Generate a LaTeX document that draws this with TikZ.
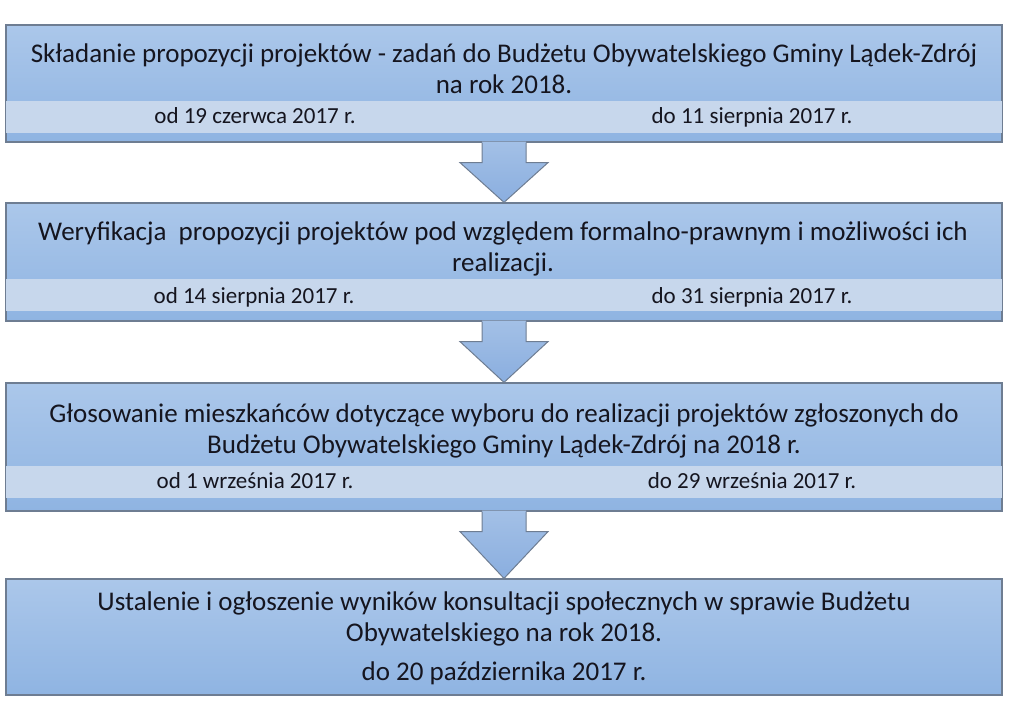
\documentclass[tikz,border=0pt]{standalone}
\usepackage{fontspec}
\setmainfont{Carlito}
\usetikzlibrary{calc}
\definecolor{boxtop}{HTML}{ABC7EA}
\definecolor{boxbot}{HTML}{8FB4E2}
\definecolor{bandfill}{HTML}{C7D7EC}
\definecolor{edgeline}{HTML}{6E7D92}
\definecolor{arrtop}{HTML}{A3C0E6}
\definecolor{arrbot}{HTML}{8AAEDF}
\definecolor{ink}{HTML}{15151F}
\tikzset{
  stepbox/.style={draw=edgeline, line width=1.2pt, top color=boxtop, bottom color=boxbot,
    minimum width=996pt, inner sep=0pt},
  band/.style={fill=bandfill},
  title/.style={font=\fontsize{27}{31}\selectfont, align=center, text=ink},
  period/.style={font=\fontsize{23}{26}\selectfont, text=ink, text height=16pt, text depth=5pt},
  arrowbody/.style={top color=arrtop, bottom color=arrbot},
  arrowedge/.style={draw=edgeline, line width=1pt, line join=miter}
}
\begin{document}
\begin{tikzpicture}[x=1pt,y=-1pt]
  \useasboundingbox (0,0) rectangle (1023,719);

  % boxes
  \node[stepbox, minimum height=117pt] (s1) at (504,83.5) {};
  \node[stepbox, minimum height=118pt] (s2) at (504,262) {};
  \node[stepbox, minimum height=128pt] (s3) at (504,447) {};
  \node[stepbox, minimum height=116pt] (s4) at (504,637) {};

  % date bands
  \foreach \s/\g in {s1/10,s2/11,s3/14}
    \fill[band] ($(\s.south west)+(0.6,-\g)$) rectangle ($(\s.south east)+(-0.6,-\g-32)$);

  % arrows
  \foreach \a/\b in {s1/s2,s2/s3,s3/s4} {
    \path[arrowbody] ($(\a.south)+(-22,-1)$) -- ($(\a.south)+(22,-1)$) -- ($(\a.south)+(22,20)$)
      -- ($(\a.south)+(44,20)$) -- (\b.north) -- ($(\a.south)+(-44,20)$) -- ($(\a.south)+(-22,20)$) -- cycle;
    \draw[arrowedge] ($(\a.south)+(22,0)$) -- ($(\a.south)+(22,20)$) -- ($(\a.south)+(44,20)$)
      -- (\b.north) -- ($(\a.south)+(-44,20)$) -- ($(\a.south)+(-22,20)$) -- ($(\a.south)+(-22,0)$);
  }

  % texts
  \node[title] (t1) at (504,68.5) {Składanie propozycji projektów - zadań do Budżetu Obywatelskiego Gminy Lądek-Zdrój\\na rok 2018.};
  \node[period] (f1) at (255,118) {od 19 czerwca 2017 r.};
  \node[period] (u1) at (752,118) {do 11 sierpnia 2017 r.};

  \node[title] (t2) at (503,248.5) {Weryfikacja~ propozycji projektów pod względem formalno-prawnym i możliwości ich\\realizacji.};
  \node[period] (f2) at (254,298) {od 14 sierpnia 2017 r.};
  \node[period] (u2) at (752,298) {do 31 sierpnia 2017 r.};

  \node[title] (t3) at (504,431) {Głosowanie mieszkańców dotyczące wyboru do realizacji projektów zgłoszonych do\\Budżetu Obywatelskiego Gminy Lądek-Zdrój na 2018 r.};
  \node[period] (f3) at (255,483) {od 1 września 2017 r.};
  \node[period] (u3) at (752,483) {do 29 września 2017 r.};

  \node[title] (t4) at (504,619) {Ustalenie i ogłoszenie wyników konsultacji społecznych w sprawie Budżetu\\Obywatelskiego na rok 2018.};
  \node[title] (d4) at (504,673.5) {do 20 października 2017 r.};
\end{tikzpicture}
\end{document}
